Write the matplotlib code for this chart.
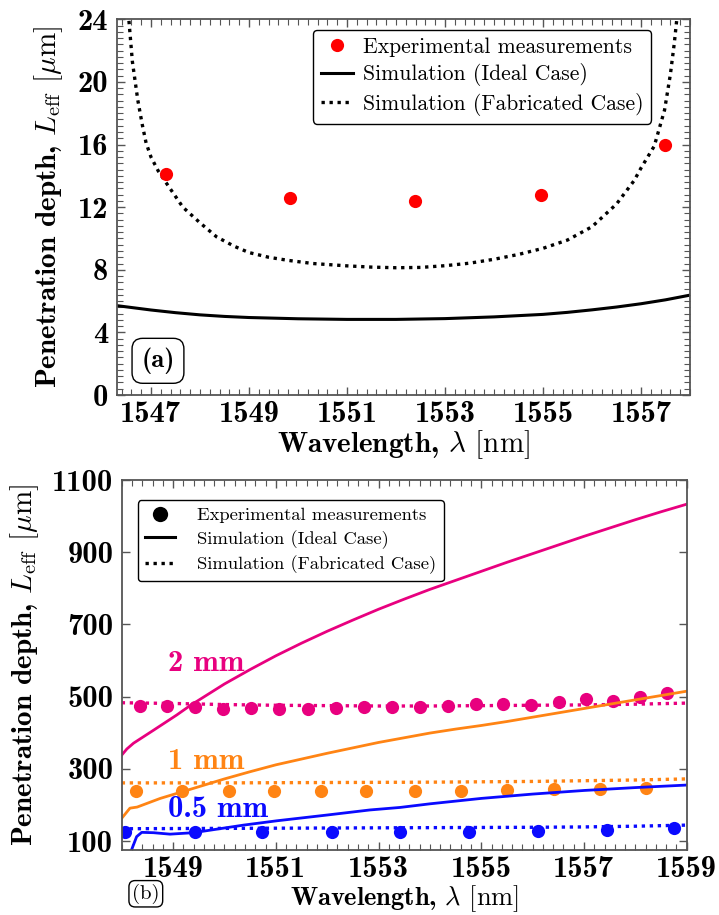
import numpy as np
import matplotlib
matplotlib.use("Agg")
import matplotlib.pyplot as plt
from matplotlib.ticker import MultipleLocator, FixedLocator
from matplotlib.lines import Line2D

plt.rcParams['mathtext.fontset'] = 'cm'
plt.rcParams['axes.unicode_minus'] = False

# ---------------- panel (a) data ----------------
a_exp_x = [1547.30, 1549.83, 1552.39, 1554.96, 1557.48]
a_exp_y = [14.12, 12.59, 12.39, 12.78, 15.99]

a_ideal_x = [1546.3, 1547.0, 1547.5, 1548.0, 1548.5, 1549.0, 1550.0, 1551.0, 1552.0,
             1553.0, 1554.0, 1555.0, 1555.5, 1556.0, 1556.5, 1557.0, 1557.5, 1558.0]
a_ideal_y = [5.71, 5.43, 5.26, 5.12, 5.02, 4.95, 4.87, 4.83, 4.83,
             4.88, 4.99, 5.15, 5.28, 5.44, 5.62, 5.83, 6.08, 6.38]

a_fab_x = [1546.55, 1546.62, 1546.73, 1546.82, 1546.90, 1547.0, 1547.15, 1547.3,
           1547.65, 1548.0, 1548.34, 1548.7, 1549.0, 1549.4, 1549.8, 1550.3,
           1551.0, 1551.5, 1552.0, 1552.5, 1553.0, 1553.5, 1554.0, 1554.5,
           1555.0, 1555.5, 1556.0, 1556.5, 1556.86, 1557.0, 1557.27, 1557.48,
           1557.6, 1557.68, 1557.73]
a_fab_y = [23.9, 21.3, 18.85, 17.3, 16.1, 15.2, 14.3, 13.6,
           12.0, 11.0, 10.1, 9.5, 9.1, 8.8, 8.6, 8.4,
           8.25, 8.17, 8.13, 8.15, 8.26, 8.42, 8.67, 8.98,
           9.37, 9.9, 10.75, 12.2, 13.7, 14.5, 15.9, 18.2,
           20.5, 22.5, 24.0]

# ---------------- panel (b) data ----------------
pink = '#e8007f'
orange = '#ff8414'
blue = '#0a0aff'

b2_exp_x = [1548.35, 1548.88, 1549.42, 1549.98, 1550.52, 1551.07, 1551.62, 1552.17,
            1552.72, 1553.27, 1553.80, 1554.35, 1554.89, 1555.43, 1555.97, 1556.51,
            1557.03, 1557.56, 1558.09, 1558.61]
b2_exp_y = [475, 475, 470, 466, 469, 466, 466, 469,
            472, 470, 470, 475, 479, 479, 478, 485,
            494, 489, 500, 509]
b2_ideal_x = [1548.0, 1548.1, 1548.23, 1548.62, 1549.07, 1549.33, 1550.0, 1550.5,
              1551.0, 1551.5, 1552.0, 1552.5, 1553.0, 1553.5, 1554.0, 1554.5,
              1555.0, 1555.5, 1556.0, 1556.5, 1557.0, 1557.5, 1558.0, 1558.5, 1559.0]
b2_ideal_y = [338, 355, 371, 407, 449, 475, 535, 575,
              613, 648, 681, 712, 742, 770, 797, 822,
              847, 872, 896, 920, 944, 967, 990, 1012, 1033]
b2_fab_x = [1548.0, 1549.0, 1550.0, 1551.0, 1552.0, 1553.0, 1554.0, 1555.0,
            1556.0, 1557.0, 1558.0, 1559.0]
b2_fab_y = [483, 481, 478, 476, 475, 474, 474, 475, 476, 477, 479, 482]

b1_exp_x = [1548.28, 1549.17, 1550.08, 1550.97, 1551.87, 1552.76, 1553.71, 1554.61,
            1555.51, 1556.42, 1557.32, 1558.21]
b1_exp_y = [239, 239, 239, 238, 239, 239, 239, 239, 241, 243, 244, 248]
b1_ideal_x = [1548.0, 1548.16, 1548.3, 1548.75, 1549.4, 1550.0, 1550.5, 1551.0,
              1551.5, 1552.0, 1552.5, 1553.0, 1553.5, 1554.0, 1554.5, 1555.0,
              1555.5, 1556.0, 1556.5, 1557.0, 1557.5, 1558.0, 1558.5, 1559.0]
b1_ideal_y = [163, 191, 194, 218, 246, 272, 292, 311,
              327, 343, 358, 373, 386, 399, 410, 420,
              431, 443, 455, 467, 479, 491, 503, 515]
b1_fab_x = [1548.0, 1550.0, 1552.0, 1554.0, 1556.0, 1558.0, 1559.0]
b1_fab_y = [261, 261, 262, 263, 265, 269, 272]

b05_exp_x = [1548.06, 1549.43, 1550.74, 1552.09, 1553.42, 1554.77, 1556.11, 1557.44, 1558.75]
b05_exp_y = [125, 126, 124, 124, 126, 126, 127, 131, 135]
b05_ideal_x = [1548.10, 1548.19, 1548.29, 1548.39, 1548.62, 1548.94, 1549.39, 1549.72,
               1550.37, 1551.02, 1552.0, 1552.83, 1553.42, 1554.0, 1555.0, 1556.0,
               1557.0, 1558.0, 1559.0]
b05_ideal_y = [20, 75, 112, 124, 123, 119, 123, 130,
               144, 156, 172, 186, 193, 203, 218, 230,
               240, 248, 255]
b05_fab_x = [1548.0, 1550.0, 1552.0, 1554.0, 1556.0, 1557.0, 1558.0, 1559.0]
b05_fab_y = [134, 135, 136, 137, 138, 139, 141, 144]

legend_labels = ['Experimental measurements', 'Simulation (Ideal Case)',
                 'Simulation (Fabricated Case)']

dotted = (0, (1, 1.4))
spine_c = '#555555'
tick_fs = 22
ylab = r'Penetration depth, $L_{\rm eff}$ $[\mu{\rm m}]$'
xlab = r'Wavelength, $\lambda$ $[{\rm nm}]$'

fig = plt.figure(figsize=(7.19, 9.15), dpi=100)
ax1 = fig.add_axes([0.1623, 0.5683, 0.7974, 0.4106])
ax2 = fig.add_axes([0.1693, 0.0710, 0.7858, 0.4044])


def style_axes(ax):
    for s in ax.spines.values():
        s.set_color(spine_c)
        s.set_linewidth(1.3)
    ax.tick_params(which='both', direction='in', top=True, right=True, color=spine_c)
    ax.tick_params(axis='x', which='both', pad=4.5)
    ax.tick_params(axis='y', which='both', pad=6)
    ax.tick_params(which='major', length=6, width=1.0)
    ax.tick_params(which='minor', length=4, width=0.8)
    for lab in ax.get_xticklabels() + ax.get_yticklabels():
        lab.set_fontfamily('cmb10')
        lab.set_fontsize(tick_fs)


# ---- panel (a)
ax1.plot(a_ideal_x, a_ideal_y, color='black', lw=2.2)
ax1.plot(a_fab_x, a_fab_y, color='black', lw=2.4, ls=dotted)
ax1.plot(a_exp_x, a_exp_y, 'o', color='#ff0000', ms=9.5, mec='none')
ax1.set_xlim(1546.3, 1558.0)
ax1.set_ylim(0, 24)
ax1.xaxis.set_major_locator(FixedLocator([1547, 1549, 1551, 1553, 1555, 1557]))
ax1.xaxis.set_minor_locator(MultipleLocator(0.2))
ax1.yaxis.set_major_locator(MultipleLocator(4))
ax1.yaxis.set_minor_locator(MultipleLocator(0.4))
style_axes(ax1)
ax1.set_xlabel(xlab, fontfamily='cmb10', fontsize=21)
ax1.set_ylabel(ylab, fontfamily='cmb10', fontsize=21)
ax1.xaxis.set_label_coords(0.5, -0.088)
ax1.yaxis.set_label_coords(-0.090, 0.5)

h1 = [Line2D([], [], ls='none', marker='o', color='#ff0000', ms=9.5, mec='none'),
      Line2D([], [], color='black', lw=2.2),
      Line2D([], [], color='black', lw=2.4, ls=dotted)]
leg1 = ax1.legend(h1, legend_labels, loc='upper right', bbox_to_anchor=(0.932, 0.972),
                  prop={'family': 'cmr10', 'size': 15.6}, frameon=True, fancybox=True,
                  framealpha=1, edgecolor='black', handlelength=1.5,
                  labelspacing=0.3, borderpad=0.35, handletextpad=0.45, borderaxespad=0)
leg1.get_frame().set_linewidth(1.0)
ax1.text(0.072, 0.091, '(a)', transform=ax1.transAxes, ha='center', va='center',
         fontfamily='cmb10', fontsize=19,
         bbox=dict(boxstyle='round,pad=0.35,rounding_size=0.4', fc='white', ec='black', lw=1.0))

# ---- panel (b)
for ex, ey, ix, iy, fx, fy, c in [
        (b2_exp_x, b2_exp_y, b2_ideal_x, b2_ideal_y, b2_fab_x, b2_fab_y, pink),
        (b1_exp_x, b1_exp_y, b1_ideal_x, b1_ideal_y, b1_fab_x, b1_fab_y, orange),
        (b05_exp_x, b05_exp_y, b05_ideal_x, b05_ideal_y, b05_fab_x, b05_fab_y, blue)]:
    ax2.plot(ix, iy, color=c, lw=2.0)
    ax2.plot(fx, fy, color=c, lw=2.4, ls=dotted)
    ax2.plot(ex, ey, 'o', color=c, ms=9.5, mec='none')

ax2.text(1548.9, 593, '2 mm', color=pink, fontfamily='cmb10', fontsize=22, va='center')
ax2.text(1548.9, 319, '1 mm', color=orange, fontfamily='cmb10', fontsize=22, va='center')
ax2.text(1548.9, 186, '0.5 mm', color=blue, fontfamily='cmb10', fontsize=22, va='center')

ax2.set_xlim(1548, 1559)
ax2.set_ylim(75, 1100)
ax2.xaxis.set_major_locator(FixedLocator([1549, 1551, 1553, 1555, 1557, 1559]))
ax2.xaxis.set_minor_locator(MultipleLocator(0.2))
ax2.yaxis.set_major_locator(FixedLocator([100, 300, 500, 700, 900, 1100]))
style_axes(ax2)
ax2.tick_params(axis='y', which='minor', left=False, right=False)
ax2.set_xlabel(xlab, fontfamily='cmb10', fontsize=19)
ax2.set_ylabel(ylab, fontfamily='cmb10', fontsize=21)
ax2.xaxis.set_label_coords(0.5, -0.09)
ax2.yaxis.set_label_coords(-0.143, 0.5)

h2 = [Line2D([], [], ls='none', marker='o', color='black', ms=11, mec='none'),
      Line2D([], [], color='black', lw=2.2),
      Line2D([], [], color='black', lw=2.4, ls=dotted)]
leg2 = ax2.legend(h2, legend_labels, loc='upper left', bbox_to_anchor=(0.028, 0.946),
                  prop={'family': 'cmr10', 'size': 13.4}, frameon=True, fancybox=True,
                  framealpha=1, edgecolor='black', handlelength=1.6,
                  labelspacing=0.35, borderpad=0.4, handletextpad=1.2, borderaxespad=0)
leg2.get_frame().set_linewidth(1.0)
fig.text(0.2028, 0.0232, '(b)', ha='center', va='center', fontfamily='cmr10', fontsize=15,
         bbox=dict(boxstyle='round,pad=0.15,rounding_size=0.3', fc='white', ec='black', lw=1.0))

fig.savefig('out.png', dpi=100)
